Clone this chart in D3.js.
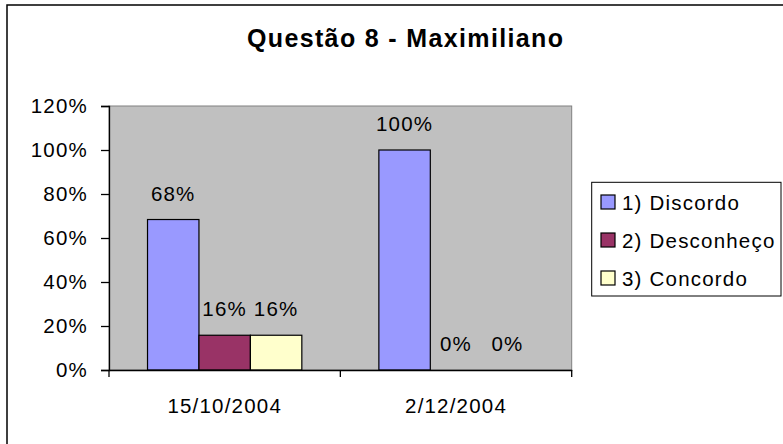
<!DOCTYPE html>
<html>
<head>
<meta charset="utf-8">
<script src="https://cdn.jsdelivr.net/npm/d3@7"></script>
<style>
  html, body { margin: 0; padding: 0; background: #fff; }
  svg { display: block; }
  text { font-family: "Liberation Sans", Arial, sans-serif; fill: #000; }
</style>
</head>
<body>
<svg id="chart" width="783" height="444"></svg>
<script>
const title = "Questão 8 - Maximiliano";
const categories = ["15/10/2004", "2/12/2004"];
const seriesNames = ["1) Discordo", "2) Desconheço", "3) Concordo"];
const seriesColors = ["#9999FF", "#993366", "#FFFFCC"];
const discordo = [0.684, 1.0];
const desconheco = [0.158, 0.0];
const concordo = [0.158, 0.0];
const yTicks = [0, 0.2, 0.4, 0.6, 0.8, 1.0, 1.2];

const seriesValues = [discordo, desconheco, concordo];
const FS = 20.5, LS = "1.2px";

const svg = d3.select("#chart");

// outer chart border (extends past the window)
svg.append("rect")
  .attr("x", 7).attr("y", 5)
  .attr("width", 800).attr("height", 460)
  .attr("fill", "#fff").attr("stroke", "#000").attr("stroke-width", 1.5);

const plot = { left: 109, right: 571.7, top: 106, bottom: 370 };

const x0 = d3.scaleBand()
  .domain(categories)
  .range([plot.left, plot.right])
  .paddingInner(0.333)
  .paddingOuter(0.1665);
const x1 = d3.scaleBand().domain(d3.range(seriesNames.length)).range([0, x0.bandwidth()]);

const y = d3.scaleLinear().domain([0, 1.2]).range([plot.bottom, plot.top]);

// plot background
svg.append("rect")
  .attr("x", plot.left).attr("y", plot.top)
  .attr("width", plot.right - plot.left).attr("height", plot.bottom - plot.top)
  .attr("fill", "#C0C0C0").attr("stroke", "#808080").attr("stroke-width", 1);

// bars
const groups = svg.append("g").selectAll("g")
  .data(categories)
  .join("g")
  .attr("transform", d => `translate(${x0(d)},0)`);

groups.selectAll("rect")
  .data((c, ci) => seriesValues.map((vals, si) => ({ si, v: vals[ci] })))
  .join("rect")
  .filter(d => d.v > 0)
  .attr("x", d => x1(d.si))
  .attr("y", d => y(d.v))
  .attr("width", x1.bandwidth())
  .attr("height", d => y(0) - y(d.v))
  .attr("fill", d => seriesColors[d.si])
  .attr("stroke", "#000").attr("stroke-width", 1.2);

groups.selectAll("text")
  .data((c, ci) => seriesValues.map((vals, si) => ({ si, v: vals[ci] })))
  .join("text")
  .attr("x", d => x1(d.si) + x1.bandwidth() / 2)
  .attr("y", d => y(d.v) - 19)
  .attr("text-anchor", "middle")
  .attr("font-size", FS).attr("letter-spacing", LS)
  .text(d => Math.round(d.v * 100) + "%");

// y axis
const yAxis = svg.append("g")
  .attr("transform", `translate(${plot.left},0)`)
  .call(d3.axisLeft(y).tickValues(yTicks).tickFormat(d => Math.round(d * 100) + "%").tickSize(8).tickPadding(13));
yAxis.select(".domain").attr("stroke", "#000").attr("stroke-width", 1.3);
yAxis.selectAll(".tick line").attr("stroke", "#000").attr("stroke-width", 1.3);
yAxis.selectAll(".tick text").attr("font-size", FS).attr("letter-spacing", LS)
  .attr("font-family", "Liberation Sans, Arial, sans-serif").attr("fill", "#000");

// x axis
const xAxis = svg.append("g")
  .attr("transform", `translate(0,${plot.bottom})`)
  .call(d3.axisBottom(x0).tickSize(0).tickPadding(28));
xAxis.select(".domain").attr("stroke", "#000").attr("stroke-width", 1.3);
xAxis.selectAll(".tick text").attr("font-size", FS).attr("letter-spacing", LS)
  .attr("font-family", "Liberation Sans, Arial, sans-serif").attr("fill", "#000");
// category boundary ticks
const step = (plot.right - plot.left) / categories.length;
svg.append("g").selectAll("line")
  .data(d3.range(categories.length + 1))
  .join("line")
  .attr("x1", i => plot.left + i * step).attr("x2", i => plot.left + i * step)
  .attr("y1", plot.bottom).attr("y2", plot.bottom + 7)
  .attr("stroke", "#000").attr("stroke-width", 1.3);

// title
svg.append("text")
  .attr("x", 405).attr("y", 47)
  .attr("text-anchor", "middle")
  .attr("font-size", 25).attr("font-weight", "bold")
  .attr("textLength", 316).attr("lengthAdjust", "spacing")
  .text(title);

// legend
const legend = svg.append("g");
legend.append("rect")
  .attr("x", 591.7).attr("y", 182.3).attr("width", 189.3).attr("height", 113.7)
  .attr("fill", "#fff").attr("stroke", "#000").attr("stroke-width", 1);
const items = legend.selectAll("g.item")
  .data(seriesNames)
  .join("g").attr("class", "item")
  .attr("transform", (d, i) => `translate(601,${202 + i * 38})`);
items.append("rect")
  .attr("x", 0).attr("y", -7).attr("width", 14).attr("height", 14)
  .attr("fill", (d, i) => seriesColors[i]).attr("stroke", "#000").attr("stroke-width", 1.2);
items.append("text")
  .attr("x", 21).attr("y", 7.5)
  .attr("font-size", FS).attr("letter-spacing", LS)
  .text(d => d);
</script>
</body>
</html>
